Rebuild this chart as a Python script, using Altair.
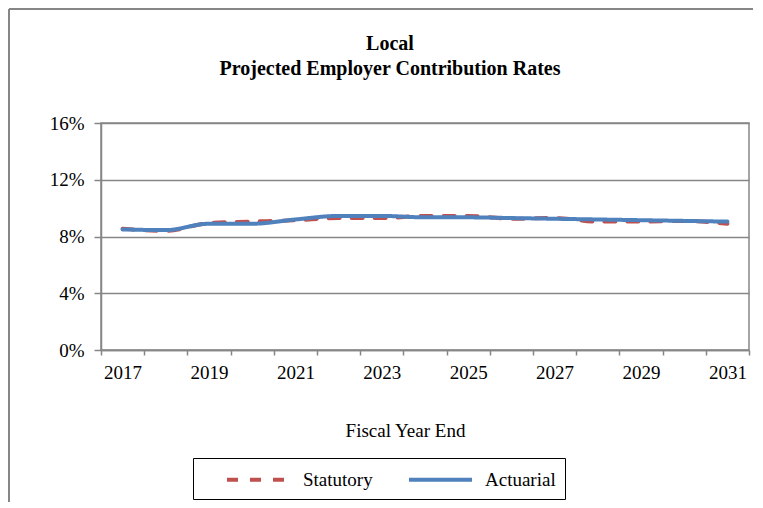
import altair as alt
import pandas as pd

years = list(range(2017, 2032))
statutory = [8.55, 8.40, 8.95, 9.05, 9.15, 9.30, 9.30, 9.45, 9.45, 9.25, 9.30, 9.05, 9.05, 9.10, 8.90]
actuarial = [8.50, 8.45, 8.90, 8.90, 9.20, 9.45, 9.45, 9.35, 9.35, 9.30, 9.25, 9.20, 9.15, 9.10, 9.05]
series_names = ["Statutory", "Actuarial"]
series_colors = ["#C0504D", "#4F81BD"]
series_dashes = [[11, 12], [1, 0]]
y_ticks = [0, 4, 8, 12, 16]
title_lines = ["Local", "Projected Employer Contribution Rates"]
x_title = "Fiscal Year End"

rows = []
for name, vals in zip(series_names, [statutory, actuarial]):
    for yr, v in zip(years, vals):
        rows.append({"year": yr, "rate": v, "series": name})
df = pd.DataFrame(rows)

FONT = "Liberation Serif"
GRAY = "#868686"

legend = alt.Legend(
    title=None, orient="none", legendX=92, legendY=335, direction="horizontal",
    symbolType="M-3,0H3", symbolSize=441, symbolStrokeWidth=4, symbolOffset=44,
    labelFont=FONT, labelFontSize=19, labelColor="black", labelOffset=32,
    strokeColor="black", fillColor="white", padding=9, columnPadding=11,
)

x_enc = alt.X(
    "year:O",
    scale=alt.Scale(type="band", paddingInner=0, paddingOuter=0),
    axis=alt.Axis(
        title=x_title, labelExpr="datum.value % 2 == 1 ? datum.label : ''",
        labelAngle=0, tickBand="extent", grid=False, tickSize=5, tickColor=GRAY,
        tickWidth=1.5, domainColor=GRAY, domainWidth=1.5, labelFont=FONT,
        labelFontSize=19, labelColor="black", labelPadding=8, labelOverlap=False,
        titleFont=FONT, titleFontSize=19, titleFontWeight="normal", titleColor="black",
        titleX=304, titleY=80, titleAlign="center", titleBaseline="middle",
    ),
)
y_enc = alt.Y(
    "rate:Q",
    scale=alt.Scale(domain=[0, 16], nice=False),
    axis=alt.Axis(
        values=y_ticks, labelExpr="datum.value + '%'", title=None, grid=True,
        gridColor=GRAY, gridWidth=1.5, domainColor=GRAY, domainWidth=1.5,
        tickColor=GRAY, tickSize=7, tickWidth=1.5, labelFont=FONT, labelFontSize=19,
        labelColor="black", labelPadding=10,
    ),
)
color_enc = alt.Color("series:N", scale=alt.Scale(domain=series_names, range=series_colors), legend=legend)
dash_enc = alt.StrokeDash("series:N", scale=alt.Scale(domain=series_names, range=series_dashes), legend=legend)

base = alt.Chart(df).encode(x=x_enc, y=y_enc, color=color_enc, strokeDash=dash_enc)
red = base.transform_filter("datum.series == 'Statutory'").mark_line(
    strokeWidth=4, interpolate="monotone", strokeCap="round")
blue = base.transform_filter("datum.series == 'Actuarial'").mark_line(
    strokeWidth=4, interpolate="monotone", strokeCap="round")

frame_df = pd.DataFrame({"k": [0]})
top_border = alt.Chart(frame_df).mark_rule(color=GRAY, strokeWidth=2).encode(
    x=alt.value(-92), x2=alt.value(660), y=alt.value(-114))
left_border = alt.Chart(frame_df).mark_rule(color=GRAY, strokeWidth=2).encode(
    x=alt.value(-92), y=alt.value(-114), y2=alt.value(400))

chart = alt.layer(top_border, left_border, red, blue).properties(
    width=648, height=227,
    padding={"left": 93, "top": 115, "right": 4, "bottom": 152},
    autosize=alt.AutoSizeParams(type="none"),
    title=alt.TitleParams(
        text=title_lines, font=FONT, fontSize=20, fontWeight="bold", color="black",
        anchor="middle", baseline="top", offset=-71, dx=-35, lineHeight=25,
    ),
).configure_view(stroke=GRAY, strokeWidth=1.5)

chart.save("out.html", embed_options={"renderer": "svg", "actions": False})
